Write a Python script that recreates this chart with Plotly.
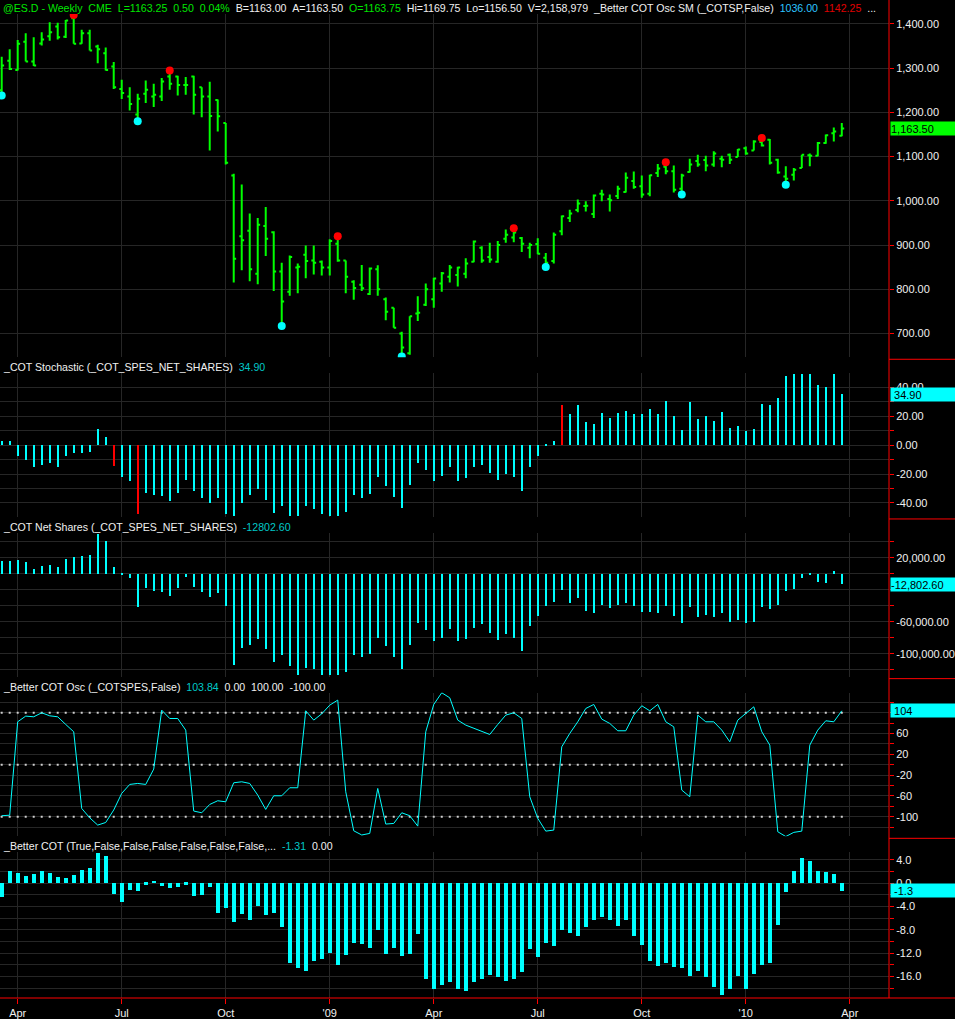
import pandas as pd
import plotly.graph_objects as go

# weekly bars, @ES.D
weeks = pd.date_range("2008-03-17", periods=106, freq="7D")

opens = [1250, 1317, 1296, 1360, 1315, 1356, 1372, 1394, 1371, 1413,
         1356, 1379, 1349, 1334, 1304, 1253, 1236, 1195, 1242, 1236,
         1236, 1281, 1281, 1262, 1281, 1257, 1236, 1228, 1176, 1057,
         920, 932, 835, 943, 929, 840, 794, 849, 878, 865,
         862, 849, 903, 865, 817, 810, 789, 845, 777, 758,
         700, 655, 745, 765, 777, 813, 828, 832, 835, 862,
         894, 873, 862, 914, 917, 916, 894, 902, 871, 864,
         931, 961, 979, 988, 970, 1016, 1004, 1011, 1020, 1045,
         1033, 1016, 1063, 1077, 1067, 1027, 1065, 1090, 1092, 1082,
         1095, 1104, 1099, 1119, 1114, 1133, 1138, 1093, 1055, 1059,
         1074, 1103, 1102, 1131, 1153, 1147]
highs = [1326, 1343, 1364, 1379, 1370, 1381, 1404, 1403, 1409, 1420,
         1387, 1387, 1353, 1347, 1314, 1274, 1257, 1242, 1272, 1265,
         1278, 1295, 1283, 1280, 1283, 1257, 1269, 1229, 1176, 1061,
         1037, 971, 961, 986, 931, 860, 876, 858, 899, 899,
         865, 913, 920, 865, 820, 855, 849, 854, 781, 758,
         704, 739, 784, 813, 826, 839, 855, 851, 870, 910,
         897, 905, 909, 935, 938, 918, 905, 915, 882, 928,
         967, 980, 1003, 999, 1014, 1025, 1014, 1034, 1064, 1066,
         1057, 1059, 1083, 1087, 1080, 1061, 1095, 1104, 1102, 1112,
         1102, 1107, 1117, 1123, 1137, 1142.25, 1140, 1095, 1078, 1074,
         1104, 1107, 1133, 1150, 1166, 1176]
lows = [1238, 1296, 1295, 1315, 1305, 1351, 1362, 1365, 1368, 1355,
        1355, 1340, 1311, 1295, 1253, 1230, 1204, 1180, 1221, 1212,
        1226, 1251, 1238, 1240, 1195, 1189, 1114, 1157, 1082, 815,
        843, 818, 811, 875, 796, 717, 785, 791, 825, 833,
        831, 831, 862, 791, 776, 796, 787, 785, 730, 713,
        648, 652, 728, 762, 758, 794, 815, 806, 825, 861,
        860, 860, 860, 905, 906, 884, 870, 879, 850, 858,
        922, 952, 974, 976, 961, 999, 976, 1004, 1019, 1027,
        1007, 1010, 1054, 1060, 1019, 1014, 1064, 1077, 1067, 1077,
        1076, 1083, 1099, 1104, 1114, 1123, 1082, 1061, 1036, 1046,
        1074, 1078, 1101, 1129, 1134, 1146]
closes = [1306, 1298, 1355, 1315, 1306, 1365, 1381, 1370, 1408, 1355,
          1379, 1340, 1343, 1296, 1257, 1244, 1219, 1231, 1251, 1240,
          1270, 1265, 1262, 1262, 1240, 1236, 1192, 1191, 1086, 869,
          911, 845, 946, 914, 840, 772, 873, 851, 864, 860,
          849, 909, 865, 828, 803, 802, 847, 800, 749, 713,
          668, 739, 747, 800, 824, 836, 849, 849, 858, 908,
          865, 867, 900, 923, 928, 903, 900, 880, 860, 923,
          965, 971, 994, 989, 1012, 1014, 1001, 1027, 1052, 1031,
          1014, 1058, 1073, 1067, 1025, 1057, 1082, 1082, 1080, 1107,
          1093, 1093, 1116, 1107, 1134, 1125, 1086, 1064, 1050, 1070,
          1104, 1102, 1131, 1148, 1157, 1163.5]

# ShowMe dots of _Better COT Osc SM
swing_high_bars = [9, 21, 42, 64, 83, 95]
swing_low_bars = [0, 17, 35, 50, 68, 85, 98]

stoch = [2.5, 2.5, -8, -10.8, -15.4, -13.6, -12.6, -15, -8, -5.7,
         -5.7, -4.6, 10.8, 5.3, -14.3, -22.3, -25, -48, -33.3, -35,
         -35.6, -38.9, -33.3, -24.6, -32, -36.6, -40.2, -36.8, -48, -49.2,
         -40.2, -35, -30.8, -38.4, -47.1, -42.5, -49.4, -49.2, -42.5, -44.6,
         -48, -49.2, -49.2, -46.4, -35, -36.6, -34.3, -22.3, -28.7, -36.1,
         -43.7, -28, -12.6, -17.2, -25, -21.8, -15, -25, -23, -15.4,
         -13.6, -19.5, -24.6, -20.5, -22.3, -32, -15, -7.4, -1.1, 2.5,
         27.6, 21.4, 27.6, 15.6, 14.5, 22.1, 18.6, 22.1, 23.2, 21.4,
         21.4, 24.8, 21.4, 30.3, 20, 10.3, 29.4, 17.9, 20, 16.6,
         22.8, 11.7, 13.1, 9.7, 11, 28.3, 27.6, 32.6, 47.6, 49,
         49, 49, 41.6, 40, 49, 34.9]
stoch_signal_bars = [14, 17, 70]

net_shares = [15833, 15833, 17500, 14583, 6250, 10000, 11250, 8333, 18750, 21667,
              22500, 23750, 50000, 40833, 8333, -1500, -5417, -41667, -17917, -20833,
              -22083, -27083, -17917, -4167, -16667, -22917, -29167, -23333, -40417, -114583,
              -92917, -89583, -82083, -94583, -110417, -102083, -115833, -127000, -117500, -118750,
              -127000, -127000, -127000, -122917, -102083, -104167, -100000, -80000, -90833, -104167,
              -118750, -89583, -61667, -70000, -84167, -80000, -68750, -84167, -81250, -67500,
              -63333, -74167, -82500, -75833, -80000, -96667, -65833, -52083, -40417, -35417,
              -19583, -36667, -30417, -45833, -48333, -38333, -42917, -38333, -36667, -39583,
              -47917, -47083, -49167, -39583, -52083, -61667, -40833, -54167, -50833, -54167,
              -48333, -60417, -58333, -61667, -60417, -41667, -43750, -38333, -20833, -18750,
              -5417, -833, -9583, -11667, 3333, -12802.6]

osc = [-98, -97, 82.7, 93.6, 92.3, 100, 94.2, 92.3, 77.6, 63.5,
       -84, -102, -116, -111, -87, -55, -37.8, -35.9, -37.8, -8.3,
       105, 89, 89, 66.7, -89, -92.3, -76.3, -69.2, -71.2, -34.6,
       -32.7, -35.9, -58.3, -85.9, -59.6, -59.6, -44.2, -44.2, 103.8, 85.9,
       98, 114.7, 124.4, -51.9, -127, -135, -132, -45.5, -114, -112.8,
       -92.3, -98, -118, 63.5, 116, 138.5, 128.8, 85.9, 76.3, 69.9,
       63.5, 58.3, 77.6, 95.5, 100, 89, -61.5, -103, -127.6, -125.6,
       34.6, 60.3, 82.7, 108.3, 116, 87.8, 79.5, 65.4, 65.4, 95.5,
       113.5, 103.8, 116, 82.7, 73, -48.7, -61.5, 95.5, 82.7, 82.7,
       66.7, 44.2, 85.9, 98.7, 111.5, 63.5, 37.8, -128.8, -138, -130,
       -127.6, 37.8, 66.7, 84.6, 82.7, 103.84]
osc_levels = [100, 0, -100]

better_cot = [-2.4, 2.1, 1.7, 1.25, 1.5, 2.1, 1.7, 1.0, 0.85, 1.4,
              2.2, 2.6, 5.1, 4.6, -1.9, -3.2, -1.2, -1.3, -0.3, 0.3,
              -0.45, -0.85, -0.7, -0.3, -2.2, -2.0, -0.7, -5.1, -4.3, -6.7,
              -5.4, -6.3, -3.9, -5.5, -5.1, -7.6, -13.7, -14.5, -15.0, -13.3,
              -13.1, -12.0, -14.1, -12.4, -10.3, -10.4, -11.1, -8.1, -12.1, -11.1,
              -12.5, -12.1, -8.7, -16.4, -18.2, -17.4, -16.9, -18.1, -18.5, -16.9,
              -16.4, -15.8, -16.1, -16.8, -16.5, -15.3, -11.4, -12.7, -10.3, -10.8,
              -8.0, -8.5, -9.1, -7.6, -6.4, -5.9, -6.4, -7.3, -6.3, -9.1,
              -10.7, -13.3, -14.2, -13.7, -14.4, -14.6, -16.0, -15.1, -16.1, -17.8,
              -19.2, -18.2, -16.0, -18.2, -15.6, -14.1, -13.7, -7.2, -1.6, 2.1,
              4.3, 3.8, 2.1, 1.9, 1.5, -1.31]

quarter_starts = ["2008-03-31", "2008-06-30", "2008-09-29", "2008-12-29", "2009-03-30",
                  "2009-06-29", "2009-09-28", "2009-12-28", "2010-03-29"]
quarter_labels = ["Apr", "Jul", "Oct", "'09", "Apr", "Jul", "Oct", "'10", "Apr"]

GREEN = "#00ff00"
CYAN = "#00ffff"
RED = "#ff0000"
GRID = "#262626"
TXT = "#f0f0f0"
FONT = "Liberation Sans, Arial, sans-serif"
WEEK_MS = 7 * 24 * 3600 * 1000

fig = go.Figure()

# price panel
fig.add_trace(go.Ohlc(x=weeks, open=opens, high=highs, low=lows, close=closes,
                      increasing=dict(line=dict(color=GREEN, width=2)),
                      decreasing=dict(line=dict(color=GREEN, width=2)),
                      tickwidth=0.3, hoverinfo="skip", xaxis="x", yaxis="y"))
fig.add_trace(go.Scatter(x=[weeks[i] for i in swing_high_bars], y=[highs[i] for i in swing_high_bars],
                         mode="markers", marker=dict(color=RED, size=8), xaxis="x", yaxis="y"))
fig.add_trace(go.Scatter(x=[weeks[i] for i in swing_low_bars], y=[lows[i] for i in swing_low_bars],
                         mode="markers", marker=dict(color=CYAN, size=8), xaxis="x", yaxis="y"))

# COT stochastic
stoch_colors = [RED if i in stoch_signal_bars else CYAN for i in range(len(stoch))]
fig.add_trace(go.Bar(x=weeks, y=stoch, width=0.25 * WEEK_MS, marker=dict(color=stoch_colors, line_width=0),
                     xaxis="x2", yaxis="y2"))

# COT net shares
fig.add_trace(go.Bar(x=weeks, y=net_shares, width=0.25 * WEEK_MS, marker=dict(color=CYAN, line_width=0),
                     xaxis="x3", yaxis="y3"))

# Better COT osc
for lv in osc_levels:
    fig.add_trace(go.Scatter(x=weeks, y=[lv] * len(weeks), mode="markers",
                             marker=dict(color="#d0d0d0", size=2, symbol="square"),
                             xaxis="x4", yaxis="y4"))
fig.add_trace(go.Scatter(x=weeks, y=osc, mode="lines", line=dict(color=CYAN, width=1),
                         xaxis="x4", yaxis="y4"))

# Better COT histogram
fig.add_trace(go.Bar(x=weeks, y=better_cot, width=0.55 * WEEK_MS, marker=dict(color=CYAN, line_width=0),
                     xaxis="x5", yaxis="y5"))

x_range = [weeks[0] - pd.Timedelta(days=1.49), weeks[0] + pd.Timedelta(days=776.3)]


def px_to_paper(p):
    return (1000 - p) / 1000


def x_axis(anchor, labels):
    return dict(type="date", range=x_range, anchor=anchor, tickvals=quarter_starts,
                ticktext=quarter_labels, showgrid=True, gridcolor=GRID, gridwidth=1,
                zeroline=False, showline=False, showticklabels=labels,
                ticks="outside" if labels else "", ticklen=5, tickcolor=RED,
                tickfont=dict(color=TXT, size=11, family=FONT), fixedrange=True,
                rangeslider=dict(visible=False))


def y_axis(anchor, top, bottom, rng, vals, texts):
    return dict(domain=[px_to_paper(bottom), px_to_paper(top)], range=rng, side="right",
                anchor=anchor, tickvals=vals, ticktext=texts, ticks="outside", ticklen=4,
                tickcolor=RED, showgrid=True, gridcolor=GRID, gridwidth=1, zeroline=False,
                showline=False, tickfont=dict(color=TXT, size=11, family=FONT), fixedrange=True)


price_ticks = list(range(700, 1401, 100))
stoch_ticks = list(range(-50, 51, 10))
net_ticks = list(range(-120000, 40001, 20000))
osc_ticks = list(range(-140, 141, 20))
cot_ticks = list(range(-18, 5, 2))

fig.update_layout(
    width=955, height=1019,
    margin=dict(l=0, r=66, t=0, b=19),
    paper_bgcolor="#000000", plot_bgcolor="#000000",
    showlegend=False, bargap=0,
    font=dict(family=FONT, size=11, color=TXT),
    xaxis=x_axis("y", False),
    xaxis2=x_axis("y2", False),
    xaxis3=x_axis("y3", False),
    xaxis4=x_axis("y4", False),
    xaxis5=x_axis("y5", True),
    yaxis=y_axis("x", 14, 358, [646, 1422.6], price_ticks, [f"{v:,.2f}" for v in price_ticks]),
    yaxis2=y_axis("x2", 374, 518, [-49.7, 49.7], stoch_ticks,
                  [f"{v:.2f}" if v % 20 == 0 else "" for v in stoch_ticks]),
    yaxis3=y_axis("x3", 534, 678, [-128750, 51250], net_ticks,
                  [f"{v:,.2f}" if v in (20000, -60000, -100000) else "" for v in net_ticks]),
    yaxis4=y_axis("x4", 694, 838, [-137.6, 138.8], osc_ticks,
                  [str(v) if v in (60, 20, -20, -60, -100) else "" for v in osc_ticks]),
    yaxis5=y_axis("x5", 854, 1000, [-19.66, 5.3], cot_ticks,
                  [f"{v:.1f}" if v % 4 == 0 else "" for v in cot_ticks]),
)

# red scale border and panel separators
right_edge = 955 / 889
shapes = [dict(type="line", xref="paper", yref="paper", x0=1, x1=1, y0=0, y1=1,
               line=dict(color=RED, width=1))]
for p in (360, 520, 680, 840):
    shapes.append(dict(type="line", xref="paper", yref="paper", x0=1, x1=right_edge,
                       y0=px_to_paper(p), y1=px_to_paper(p), line=dict(color=RED, width=1)))
shapes.append(dict(type="line", xref="paper", yref="paper", x0=0, x1=right_edge, y0=0, y1=0,
                   line=dict(color=RED, width=1)))
fig.update_layout(shapes=shapes)


def sp(txt, color):
    return f'<span style="color:{color}">{txt}</span>'


gap = "\u00a0\u00a0"
titles = [
    (8, sp(f"@ES.D - Weekly{gap}CME{gap}L=1163.25{gap}0.50{gap}0.04%{gap}", "#00e600")
     + sp(f"B=1163.00{gap}A=1163.50{gap}", TXT)
     + sp(f"O=1163.75{gap}", "#00e600")
     + sp(f"Hi=1169.75{gap}Lo=1156.50{gap}V=2,158,979{gap}_Better COT Osc SM (_COTSP,False){gap}", TXT)
     + sp(f"1036.00{gap}", "#2cc4ff") + sp(f"1142.25{gap}", "#e00000") + sp("...", TXT)),
    (368, sp(f"_COT Stochastic (_COT_SPES_NET_SHARES){gap}", TXT) + sp("34.90", "#00c8c8")),
    (528, sp(f"_COT Net Shares (_COT_SPES_NET_SHARES){gap}", TXT) + sp("-12802.60", "#00c8c8")),
    (688, sp(f"_Better COT Osc (_COTSPES,False){gap}", TXT) + sp("103.84", "#00c8c8")
     + sp(f"{gap}0.00{gap}100.00{gap}-100.00", TXT)),
    (848, sp(f"_Better COT (True,False,False,False,False,False,False,...{gap}", TXT)
     + sp("-1.31", "#00c8c8") + sp(f"{gap}0.00", TXT)),
]
annotations = []
for ypx, txt in titles:
    annotations.append(dict(x=0, xref="paper", xanchor="left", xshift=1, y=px_to_paper(ypx),
                            yref="paper", yanchor="middle", text=txt, showarrow=False,
                            font=dict(family=FONT, size=10.6, color=TXT)))

# last value boxes on the scales
last_boxes = [
    ("y", closes[-1], f"{closes[-1]:,.2f}", GREEN),
    ("y2", stoch[-1], f"\u00a0{stoch[-1]:.2f}", CYAN),
    ("y3", net_shares[-1], f"{net_shares[-1]:,.2f}", CYAN),
    ("y4", osc[-1], f"\u00a0{osc[-1]:.0f}", CYAN),
    ("y5", better_cot[-1], f"\u00a0{better_cot[-1]:.1f}", CYAN),
]
for yref, val, txt, bg in last_boxes:
    annotations.append(dict(x=1, xref="paper", xanchor="left", xshift=1, y=val, yref=yref,
                            yanchor="middle", text=txt, showarrow=False, bgcolor=bg,
                            width=64, height=13, align="left", borderpad=0,
                            font=dict(family=FONT, size=11, color="#000000")))
fig.update_layout(annotations=annotations)

fig.write_html("out.html", config={"displayModeBar": False},
               post_script="document.body.style.margin='0';")
